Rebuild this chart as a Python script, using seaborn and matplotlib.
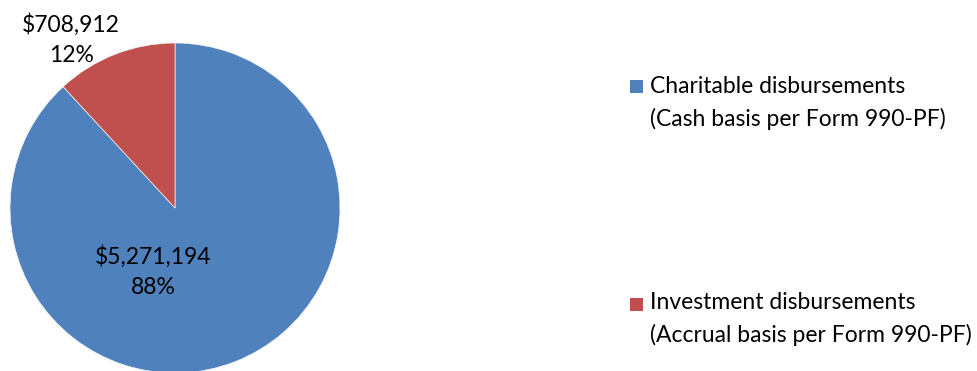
import matplotlib
matplotlib.use("Agg")
import matplotlib.pyplot as plt
import seaborn as sns
from matplotlib.patches import Rectangle

categories = ["Charitable disbursements\n(Cash basis per Form 990-PF)",
              "Investment disbursements\n(Accrual basis per Form 990-PF)"]
values = [5271194, 708912]
value_labels = ["$5,271,194", "$708,912"]
pct_labels = ["88%", "12%"]
colors = ["#4F81BD", "#C0504D"]

sns.set_theme(style="white")
plt.rcParams['font.family'] = ['Lato', 'DejaVu Sans']

W, H = 978, 371
fig = plt.figure(figsize=(W / 100, H / 100), dpi=100)
cx, cy, r = 175, 208, 165
ax = fig.add_axes([(cx - r) / W, (H - (cy + r)) / H, 2 * r / W, 2 * r / H])
ax.pie(values, colors=colors, startangle=90, counterclock=False,
       wedgeprops=dict(linewidth=0.5, edgecolor="#f4f4f4"))
ax.set_xlim(-1, 1)
ax.set_ylim(-1, 1)
ax.set_aspect("equal")
ax.axis("off")

fs = 16.5
ls = 1.55
ax.text(-0.13, -0.385, f"{value_labels[0]}\n{pct_labels[0]}", ha="center", va="center",
        fontsize=fs, linespacing=ls, color="black")
ax.text(-0.63, 1.02, f"{value_labels[1]}\n{pct_labels[1]}", ha="center", va="center",
        fontsize=fs, linespacing=ls, color="black", clip_on=False)

# legend
square_y = [86, 304]
block_y = [103, 319]
for lab, col, sy, by in zip(categories, colors, square_y, block_y):
    fig.patches.append(Rectangle((630 / W, 1 - (sy + 7) / H), 13 / W, 13 / H,
                                 transform=fig.transFigure, facecolor=col, edgecolor="none"))
    fig.text(650 / W, 1 - by / H, lab, ha="left", va="center", fontsize=fs,
             linespacing=ls, color="black")

fig.savefig("out.png", dpi=100)
